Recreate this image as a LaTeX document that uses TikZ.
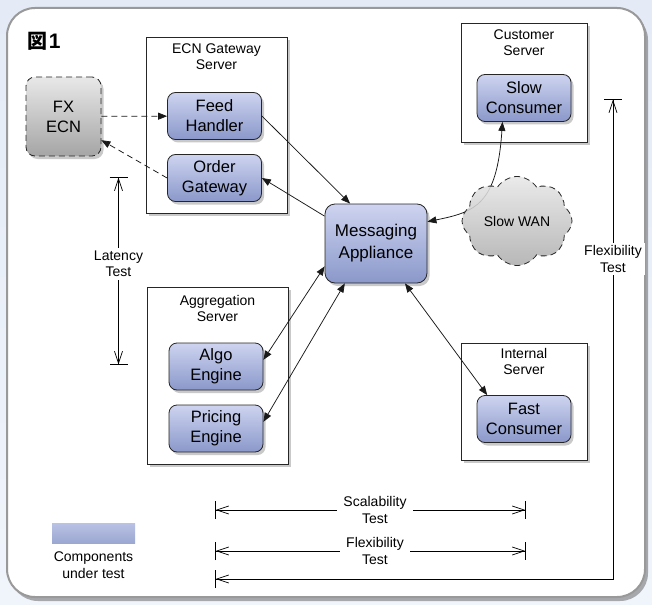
\documentclass[tikz,border=0pt]{standalone}
\usepackage{fontspec}
\setmainfont{Liberation Sans}
\newfontfamily\cjk{Noto Sans CJK JP}
\usetikzlibrary{arrows.meta,shapes.symbols,shadows}
\definecolor{compTop}{RGB}{206,212,240}
\definecolor{compBot}{RGB}{138,152,202}
\definecolor{greyTop}{RGB}{232,232,232}
\definecolor{greyBot}{RGB}{165,165,165}
\definecolor{bgTop}{RGB}{228,235,246}
\definecolor{bgBot}{RGB}{240,244,251}
\begin{document}
\begin{tikzpicture}[x=1pt,y=-1pt,
  shd/.style={drop shadow={shadow xshift=2.5pt,shadow yshift=-3pt,opacity=0.35,fill=black!60}},
  comp/.style={draw=black!85,line width=0.8pt,rounded corners=8pt,top color=compTop,bottom color=compBot,
    align=center,font=\fontsize{16.5}{20}\selectfont,minimum width=94pt,minimum height=47pt,inner sep=0pt,shd},
  server/.style={draw=black!85,line width=0.8pt,fill=white,inner sep=0pt,shd},
  stitle/.style={align=center,font=\fontsize{14}{16.5}\selectfont,inner sep=0pt},
  tlabel/.style={align=center,font=\fontsize{14}{16.5}\selectfont,fill=white,inner sep=3pt},
  conn/.style={line width=0.75pt,draw=black!90},
  dsh/.style={dash pattern=on 6pt off 4pt},
  testline/.style={line width=0.7pt,
    {Bar[width=18pt]Straight Barb[length=12pt,width=8pt]}-{Straight Barb[length=12pt,width=8pt]Bar[width=18pt]}},
]
\useasboundingbox (0,0) rectangle (652,604);
% background
\fill[top color=bgTop,bottom color=bgBot] (0,0) rectangle (652,604);
\path[fill=white,draw=black!40,line width=2pt,rounded corners=28pt,
  drop shadow={shadow xshift=3pt,shadow yshift=-4pt,opacity=0.45,fill=black!70}] (7,8) rectangle (645,597);

% title
\node[inner sep=0pt,anchor=west] (fig) at (27,41) {{\cjk\bfseries\fontsize{20}{20}\selectfont 図}\,{\bfseries\fontsize{21}{21}\selectfont 1}};

% servers
\node[server,minimum width=141pt,minimum height=176pt] (ecn) at (216.5,125) {};
\node[stitle] (ecnt) at (216.5,56.5) {ECN Gateway\\Server};
\node[server,minimum width=126pt,minimum height=119pt] (cust) at (524,82.5) {};
\node[stitle] (custt) at (524,42.5) {Customer\\Server};
\node[server,minimum width=141pt,minimum height=177pt] (agg) at (217.5,375.5) {};
\node[stitle] (aggt) at (217.5,308.5) {Aggregation\\Server};
\node[server,minimum width=126pt,minimum height=117pt] (intl) at (524,401.5) {};
\node[stitle] (intlt) at (524,361.5) {Internal\\Server};

% components
\node[comp] (fh) at (214.5,116) {Feed\\Handler};
\node[comp] (og) at (214.5,178) {Order\\Gateway};
\node[comp] (sc) at (524,98) {Slow\\Consumer};
\node[comp,minimum width=102pt,minimum height=79pt,rounded corners=10pt,font=\fontsize{17}{22}\selectfont] (ma) at (376,243.5) {Messaging\\Appliance};
\node[comp] (ae) at (216,366.5) {Algo\\Engine};
\node[comp] (pe) at (216,428.5) {Pricing\\Engine};
\node[comp] (fc) at (524,419) {Fast\\Consumer};
\node[draw=black!85,line width=0.8pt,dsh,rounded corners=9pt,top color=greyTop,bottom color=greyBot,
  minimum width=75pt,minimum height=79pt,inner sep=0pt,align=center,font=\fontsize{16.5}{20}\selectfont,shd] (fx) at (63.5,116.5) {FX\\ECN};

% connectors
\draw[conn,dsh,-{Triangle[length=9pt,width=7pt]}] (fx) -- (fh);
\draw[conn,dsh,-{Triangle[length=9pt,width=7pt]}] (og.west) -- (fx.-32);
\draw[conn,-{Triangle[length=9pt,width=7pt]}] (fh.east) -- (ma.123);
\draw[conn,-{Triangle[length=9pt,width=7pt]}] (ma.152) -- (og.east);
\draw[conn,{Triangle[length=9pt,width=7pt]}-{Triangle[length=9pt,width=7pt]}] (ma.23) .. controls (475,212) and (497,205) .. (sc.-132);
\draw[conn,{Triangle[length=9pt,width=7pt]}-{Triangle[length=9pt,width=7pt]}] (ma.204) -- (ae.8);
\draw[conn,{Triangle[length=9pt,width=7pt]}-{Triangle[length=9pt,width=7pt]}] (ma.232) -- (pe.8);
\draw[conn,{Triangle[length=9pt,width=7pt]}-{Triangle[length=9pt,width=7pt]}] (ma.-54) -- (fc.147);

% cloud (over the curve)
\node[cloud,cloud puffs=8,cloud puff arc=115,aspect=1.25,draw=black!85,line width=0.8pt,dsh,
  top color=greyTop,bottom color=greyBot!90,fill opacity=0.88,text opacity=1,
  minimum width=110pt,minimum height=88pt,inner sep=0pt,font=\fontsize{14}{16}\selectfont] (wan) at (517,221) {Slow WAN};

% tests
\coordinate (lt1) at (118.5,177);
\coordinate (lt2) at (118.5,365);
\draw[testline] (lt1) -- (lt2);
\node[tlabel] (ltl) at (118.5,264) {Latency\\Test};

\coordinate (st1) at (215,510);
\coordinate (st2) at (526,510);
\draw[testline] (st1) -- (st2);
\node[tlabel,inner xsep=6pt] (stl) at (375,510) {Scalability\\Test};

\coordinate (ft1) at (215,551);
\coordinate (ft2) at (526,551);
\draw[testline] (ft1) -- (ft2);
\node[tlabel,inner xsep=6pt] (ftl) at (375,551) {Flexibility\\Test};

\coordinate (rf1) at (613,99);
\coordinate (rf2) at (613,579);
\coordinate (rf3) at (215,579);
\draw[testline] (rf1) -- (rf2) -- (rf3);
\node[tlabel] (rfl) at (613,259) {Flexibility\\Test};

% legend
\node[draw=none,top color=compTop!70!compBot,bottom color=compBot!85!white,minimum width=83pt,minimum height=20pt,inner sep=0pt] (leg) at (93.5,533) {};
\node[stitle] (legt) at (93.5,565) {Components\\under test};
\end{tikzpicture}
\end{document}
